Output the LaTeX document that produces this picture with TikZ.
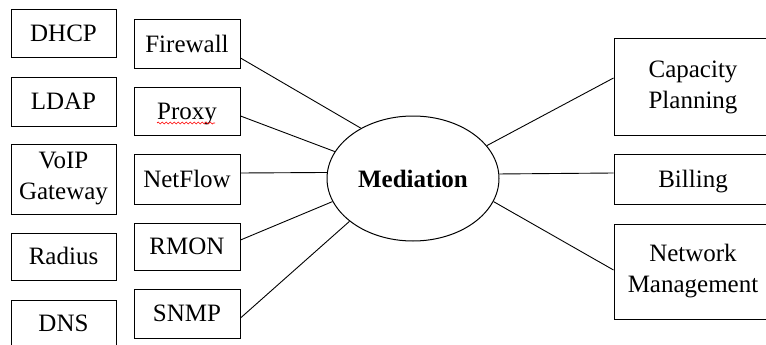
\documentclass[tikz,border=0pt]{standalone}
\usepackage{fontspec}
\setmainfont{Liberation Serif}
\usetikzlibrary{shapes.geometric,decorations.pathmorphing}
\begin{document}
\begin{tikzpicture}[x=1pt,y=-1pt,
  every node/.style={font=\fontsize{25}{31}\selectfont},
  oneline/.style={text height=19pt, text depth=3pt},
  srcbox/.style={draw, line width=1pt, inner sep=0pt, minimum width=105pt, align=center},
  feedbox/.style={draw, line width=1pt, inner sep=0pt, minimum width=106pt, oneline},
  usebox/.style={draw, line width=1pt, inner sep=0pt, minimum width=158pt, align=center},
  hub/.style={draw, ellipse, line width=1pt, inner sep=0pt, minimum width=172pt, minimum height=125pt, font=\fontsize{25}{31}\selectfont\bfseries},
  link/.style={line width=0.9pt}]
\useasboundingbox (0,0) rectangle (766,345);

% data sources (outer column)
\node[srcbox, oneline, minimum height=48pt] (dhcp) at (63.5,34) {DHCP};
\node[srcbox, oneline, minimum height=48pt] (ldap) at (63.5,102) {LDAP};
\node[srcbox, minimum height=70pt] (voip) at (63.5,179) {VoIP\\Gateway};
\node[srcbox, oneline, minimum height=47pt] (radius) at (63.5,256.5) {Radius};
\node[srcbox, oneline, minimum height=47pt] (dns) at (63.5,323.5) {DNS};

% collectors feeding mediation
\node[feedbox, minimum height=49pt] (fw) at (187,44.5) {Firewall};
\node[feedbox, minimum height=47pt] (px) at (187,111.5) {Proxy};
\node[feedbox, minimum height=50pt] (nf) at (187,179) {NetFlow};
\node[feedbox, minimum height=47pt] (rm) at (187,246.5) {RMON};
\node[feedbox, minimum height=49pt] (sn) at (187,313.5) {SNMP};

% spell-check underline
\draw[red, line width=0.7pt, decorate, decoration={snake, amplitude=1pt, segment length=4pt}]
  ([xshift=-30pt,yshift=-11.5pt]px.center) -- ([xshift=28pt,yshift=-11.5pt]px.center);

% central hub
\node[hub] (med) at (413,178.5) {Mediation};

% consumers
\node[usebox, minimum height=96pt] (cap) at (693,87) {Capacity\\Planning};
\node[usebox, oneline, minimum height=50pt] (bill) at (693,179) {Billing};
\node[usebox, minimum height=95pt] (nm) at (693,271.5) {Network\\Management};

% connectors
\draw[link] ([yshift=-13.5pt]fw.east) -- (med.136.8);
\draw[link] ([yshift=-4.5pt]px.east) -- (med.161.9);
\draw[link] ([yshift=6pt]nf.east) -- (med.176.3);
\draw[link] ([yshift=6.5pt]rm.east) -- (med.196.5);
\draw[link] ([yshift=-4.5pt]sn.east) -- (med.214.6);
\draw[link] (med.24.1) -- ([yshift=9pt]cap.west);
\draw[link] (med.3.7) -- ([yshift=6pt]bill.west);
\draw[link] (med.-16.9) -- ([yshift=1.5pt]nm.west);
\end{tikzpicture}
\end{document}
